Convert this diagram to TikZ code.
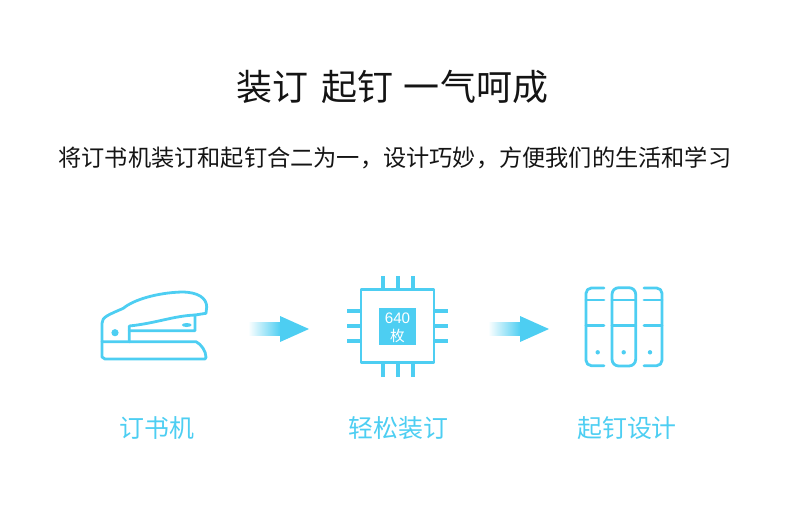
\documentclass[tikz,border=0pt]{standalone}
\usepackage{fontspec}
\newfontfamily\cjk{Noto Sans CJK SC}
\setsansfont{Liberation Sans}
\definecolor{iconblue}{HTML}{4DCEF2}
\tikzset{
    iconline/.style={draw=iconblue, line width=2.1pt, line join=round, line cap=round},
    pinline/.style={draw=iconblue, line width=3pt},
    caption/.style={iconblue, font=\cjk\fontsize{18.7}{22}\selectfont},
}
\begin{document}
\begin{tikzpicture}[x=0.75pt, y=-0.75pt]
    \useasboundingbox (0,0) rectangle (790,512);

    % Heading
    \node[font=\cjk\fontsize{27}{30}\selectfont, text=black!92] (title) at (392.5,87) {装订\hspace{0.36em}起钉\hspace{0.28em}一气呵成};
    \node[font=\cjk\fontsize{17.4}{20}\selectfont, text=black!92] (subtitle) at (395,158) {将订书机装订和起钉合二为一，设计巧妙，方便我们的生活和学习};

    % Stapler
    \draw[iconline] (129.3,341.7) -- (102,341.7) -- (102,323.3)
        .. controls (102,317) and (108,315) .. (123.3,308.3)
        .. controls (133,300) and (156.7,292.7) .. (181.7,292)
        .. controls (198,292) and (206.7,298) .. (206.7,307)
        -- (206,313.3) -- (195,315) -- (195,330.7) -- (129.3,330.7);
    \draw[iconline] (129.3,341.7) -- (129.3,326)
        .. controls (157,323) and (173,316) .. (195,315);
    \draw[iconline] (129.3,341.7) -- (196,341.7)
        .. controls (201,344) and (206,351) .. (206,357.3)
        -- (205,359) -- (105,359) -- (102,357) -- (102,341.7);
    \fill[iconblue] (115,332.7) circle (3.6);
    \fill[iconblue] (186.7,325) ellipse (4.9 and 2);

    % Arrows
    \foreach \x in {248,488} {
        \shade[left color=white, right color=iconblue] (\x,322.7) rectangle (\x+33,335);
        \fill[iconblue] (\x+32,316) -- (\x+61,329) -- (\x+32,342) -- cycle;
    }

    % Chip
    \draw[iconline] (361,289.3) rectangle (434,362.7);
    \foreach \x in {383,398,413} {
        \draw[pinline] (\x,276) -- (\x,289.3);
        \draw[pinline] (\x,362.7) -- (\x,376.7);
    }
    \foreach \y in {311,326,341.3} {
        \draw[pinline] (347.3,\y) -- (361,\y);
        \draw[pinline] (434,\y) -- (448,\y);
    }
    \fill[iconblue] (379,307.7) rectangle (416,345);
    \node[white, font=\sffamily\fontsize{11.4}{12}\selectfont, inner sep=0pt] (count) at (397.5,318.5) {640};
    \node[white, font=\cjk\fontsize{11}{12}\selectfont, inner sep=0pt] (unit) at (397.5,336) {枚};

    % Remover
    \draw[iconline] (604,288) -- (591,288) [rounded corners=4pt] -- (586,288) -- (586,365.7) [sharp corners] -- (604,365.7);
    \draw[iconline, rounded corners=5pt] (612,287.7) rectangle (635.7,366);
    \draw[iconline] (644,288) -- (657,288) [rounded corners=4pt] -- (662,288) -- (662,365.7) [sharp corners] -- (644,365.7);
    \foreach \y in {300,325.3} {
        \draw[iconline] (586,\y) -- (604,\y);
        \draw[iconline] (612,\y) -- (635.7,\y);
        \draw[iconline] (644,\y) -- (662,\y);
    }
    \foreach \x in {597.7,623.7,650} {
        \fill[iconblue] (\x,352.3) circle (2.2);
    }

    % Captions
    \node[caption] (stapler) at (157,428) {订书机};
    \node[caption] (binding) at (398.5,428) {轻松装订};
    \node[caption] (removal) at (627,428) {起钉设计};
\end{tikzpicture}
\end{document}
